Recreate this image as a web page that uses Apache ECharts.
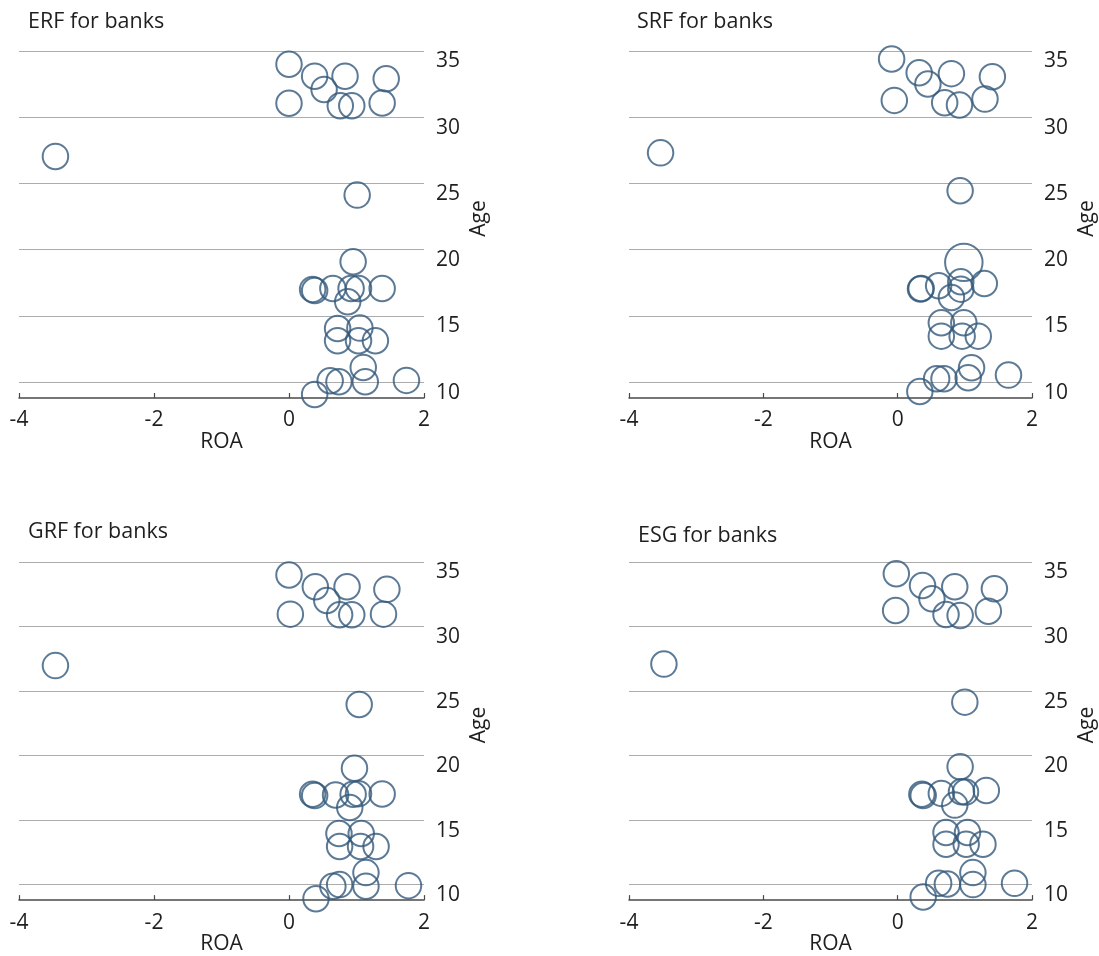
<!DOCTYPE html>
<html>
<head>
<meta charset="utf-8">
<script src="https://cdn.jsdelivr.net/npm/echarts@6/dist/echarts.min.js"></script>
<style>
  html, body { margin: 0; padding: 0; background: #fff; }
  #chart { width: 1099px; height: 956px; }
</style>
</head>
<body>
<div id="chart"></div>
<script>
// ---- Data ----
const panelTitles = ["ERF for banks", "SRF for banks", "GRF for banks", "ESG for banks"];
const xTickLabels = [-4, -2, 0, 2];
const yTickLabels = [10, 15, 20, 25, 30, 35];

const erfROA = [0.00, 0.38, 0.83, 1.44, 0.52, 0.00, 0.76, 0.93, 1.38, -3.46, 1.01, 0.95, 0.35, 0.38, 0.65, 0.92, 1.03, 1.38, 0.87, 0.72, 1.05, 0.72, 1.03, 1.28, 1.10, 0.61, 0.74, 1.13, 1.74, 0.38];
const erfAge = [34.00, 33.10, 33.10, 32.90, 32.10, 31.05, 30.87, 30.87, 31.07, 27.04, 24.12, 19.09, 17.00, 16.92, 17.07, 17.07, 17.07, 17.07, 16.07, 14.05, 14.08, 13.12, 13.12, 13.12, 11.11, 10.10, 10.03, 10.03, 10.13, 9.07];
const erfSize = [1, 1, 1, 1, 1, 1, 1, 1, 1, 1, 1, 1, 1, 1, 1, 1, 1, 1, 1, 1, 1, 1, 1, 1, 1, 1, 1, 1, 1, 1];

const srfROA = [-0.09, 0.32, 0.80, 1.41, 0.45, -0.05, 0.70, 0.92, 1.30, -3.53, 0.93, 0.985, 0.35, 0.34, 0.61, 0.94, 0.94, 1.29, 0.80, 0.65, 0.985, 0.65, 0.96, 1.20, 1.10, 0.58, 0.69, 1.05, 1.65, 0.33];
const srfAge = [34.40, 33.36, 33.29, 33.06, 32.51, 31.27, 31.10, 30.92, 31.37, 27.31, 24.45, 19.04, 17.07, 17.03, 17.28, 17.58, 17.02, 17.45, 16.39, 14.48, 14.48, 13.47, 13.47, 13.47, 11.08, 10.25, 10.25, 10.33, 10.53, 9.29];
const srfSize = [1, 1, 1, 1, 1, 1, 1, 1, 1, 1, 1, 2.16, 1, 1, 1, 1, 1, 1, 1, 1, 1, 1, 1, 1, 1, 1, 1, 1, 1, 1];

const grfROA = [0.00, 0.39, 0.86, 1.45, 0.56, 0.02, 0.75, 0.93, 1.40, -3.46, 1.04, 0.97, 0.35, 0.38, 0.69, 0.95, 1.03, 1.38, 0.90, 0.74, 1.07, 0.75, 1.06, 1.29, 1.14, 0.65, 0.75, 1.14, 1.77, 0.40];
const grfAge = [33.99, 33.08, 33.08, 32.88, 32.02, 30.96, 30.91, 30.91, 30.96, 26.97, 23.96, 19.02, 17.00, 16.90, 16.94, 17.00, 17.05, 17.02, 15.98, 13.96, 13.96, 12.95, 12.95, 12.95, 10.93, 9.87, 10.00, 9.87, 9.92, 8.91];
const grfSize = [1, 1, 1, 1, 1, 1, 1, 1, 1, 1, 1, 1, 1, 1, 1, 1, 1, 1, 1, 1, 1, 1, 1, 1, 1, 1, 1, 1, 1, 1];

const esgROA = [-0.02, 0.37, 0.85, 1.44, 0.51, -0.03, 0.72, 0.93, 1.35, -3.48, 1.00, 0.93, 0.36, 0.38, 0.65, 0.95, 1.01, 1.32, 0.85, 0.72, 1.04, 0.72, 1.02, 1.27, 1.12, 0.61, 0.74, 1.12, 1.74, 0.38];
const esgAge = [34.09, 33.18, 33.08, 32.93, 32.15, 31.24, 30.93, 30.86, 31.19, 27.09, 24.14, 19.14, 17.00, 16.90, 17.07, 17.20, 17.17, 17.30, 16.16, 14.04, 14.04, 13.13, 13.13, 13.13, 10.93, 10.10, 10.05, 10.00, 10.10, 9.04];
const esgSize = [1, 1, 1, 1, 1, 1, 1, 1, 1, 1, 1, 1, 1, 1, 1, 1, 1, 1, 1, 1, 1, 1, 1, 1, 1, 1, 1, 1, 1, 1];

const panelROA = [erfROA, srfROA, grfROA, esgROA];
const panelAge = [erfAge, srfAge, grfAge, esgAge];
const panelSize = [erfSize, srfSize, grfSize, esgSize];

// ---- Layout / style ----
const FONT = "'Open Sans', 'Noto Sans', sans-serif";
const TXT = '#1f1f1f';
const CIRCLE = '#33597a';
const grids = [
  { left: 19, top: 51, width: 405, height: 347 },
  { left: 629, top: 51, width: 404, height: 347 },
  { left: 19, top: 562, width: 405, height: 346 },
  { left: 629, top: 562, width: 404, height: 346 }
];
const titlePos = [
  { left: 28, top: 11 },
  { left: 637, top: 11 },
  { left: 28, top: 521 },
  { left: 638, top: 525 }
];

const option = {
  animation: false,
  backgroundColor: '#fff',
  textStyle: { fontFamily: FONT },
  title: panelTitles.map((t, i) => ({
    text: t, left: titlePos[i].left, top: titlePos[i].top, padding: 0,
    textStyle: { fontFamily: FONT, fontSize: 21.5, fontWeight: 'normal', color: TXT }
  })),
  grid: grids.map(g => Object.assign({ containLabel: false }, g)),
  xAxis: grids.map((g, i) => ({
    type: 'value', gridIndex: i, min: xTickLabels[0], max: xTickLabels[xTickLabels.length - 1], interval: 2,
    name: 'ROA', nameLocation: 'middle', nameGap: 25,
    nameTextStyle: { fontFamily: FONT, fontSize: 21, color: TXT },
    axisLine: { show: true, onZero: false, lineStyle: { color: '#4a4a4a', width: 1.5 } },
    axisTick: { show: true, inside: true, length: 5, lineStyle: { color: '#4a4a4a', width: 1.2 } },
    axisLabel: { fontFamily: FONT, fontSize: 21, color: TXT, margin: 12 },
    splitLine: { show: false }
  })),
  yAxis: grids.map((g, i) => ({
    type: 'value', gridIndex: i, position: 'right', min: 8.8, max: 35,
    name: 'Age', nameLocation: 'middle', nameGap: 45, nameRotate: 90,
    nameTextStyle: { fontFamily: FONT, fontSize: 21, color: TXT, padding: [0, 0, 0, 12] },
    axisLine: { show: false },
    axisTick: { show: false, customValues: yTickLabels },
    axisLabel: {
      fontFamily: FONT, fontSize: 21, color: TXT, margin: 12, verticalAlign: 'top',
      customValues: yTickLabels
    },
    splitLine: { show: true, customValues: yTickLabels, lineStyle: { color: '#acacac', width: 1.2 } }
  })),
  series: panelROA.map((roa, i) => ({
    type: 'scatter', xAxisIndex: i, yAxisIndex: i, clip: false,
    data: roa.map((x, k) => [x, panelAge[i][k], panelSize[i][k]]),
    symbol: 'circle',
    symbolSize: d => 25.5 * Math.sqrt(d[2]),
    itemStyle: { color: 'rgba(255,255,255,0)', borderColor: CIRCLE, borderWidth: 2 }
  }))
};

const chart = echarts.init(document.getElementById('chart'), null, { renderer: 'canvas' });
chart.setOption(option);
</script>
</body>
</html>
